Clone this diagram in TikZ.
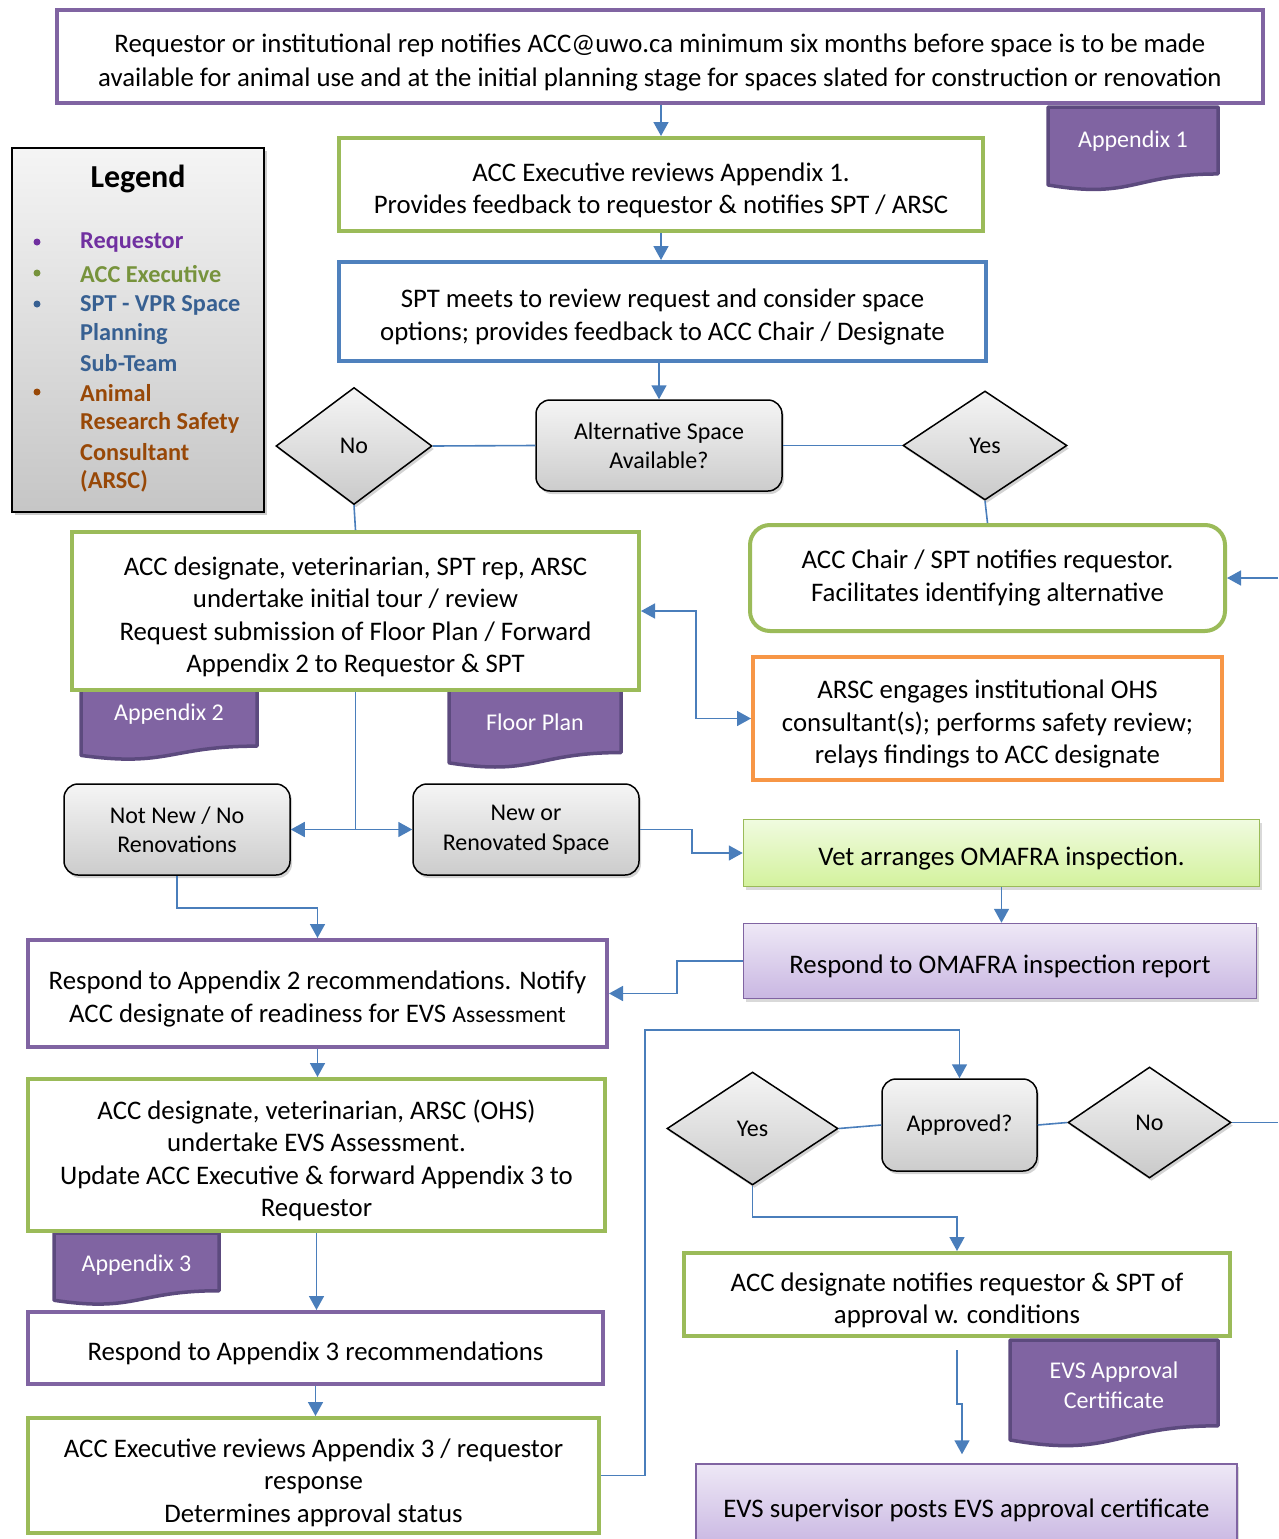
\documentclass[tikz,border=0pt]{standalone}
\usepackage{fontspec}
\setmainfont{Carlito}
\usetikzlibrary{arrows.meta,shapes.geometric,shadows,calc}
\definecolor{purp}{HTML}{8064A2}
\definecolor{purpdk}{HTML}{5C4A7E}
\definecolor{grn}{HTML}{9BBB59}
\definecolor{blu}{HTML}{4F81BD}
\definecolor{orng}{HTML}{F79646}
\definecolor{arrc}{HTML}{4A7EBB}
\definecolor{lgReq}{HTML}{7030A0}
\definecolor{lgAcc}{HTML}{77933C}
\definecolor{lgSpt}{HTML}{376092}
\definecolor{lgArsc}{HTML}{984807}
\definecolor{vettop}{HTML}{F0FBDF}
\definecolor{vetbot}{HTML}{D3F29C}
\definecolor{lavtop}{HTML}{EEE8F6}
\definecolor{lavbot}{HTML}{C9B7E2}
\newcommand\mainfs{\fontsize{26.8}{32.5}\selectfont}
\newcommand\grayfs{\fontsize{24}{29.5}\selectfont}
\newcommand\tp{\rule{0pt}{30pt}}
\newcommand\docshape[7]{% x1,x2,top,h,name,texty,text
  \draw[docsty] (#1,#3) -- (#2,#3) -- (#2,{#3+0.802*#4})
    .. controls ({(#1+#2)/2},{#3+0.802*#4}) and ({(#1+#2)/2},{#3+1.107*#4}) .. (#1,{#3+0.934*#4}) -- cycle;
  \node[doctext] (#5) at ({(#1+#2)/2},#6) {#7};
}
\tikzset{
  every node/.style={align=center, inner sep=0pt},
  box/.style={draw, line width=4pt, fill=white, font=\mainfs},
  pbox/.style={box, draw=purp},
  gbox/.style={box, draw=grn},
  bbox/.style={box, draw=blu},
  obox/.style={box, draw=orng},
  graybox/.style={draw=black, line width=1.5pt, rounded corners=14pt, top color=gray!8, bottom color=gray!40,
     drop shadow={shadow xshift=2pt, shadow yshift=-3pt, opacity=0.35}, font=\grayfs},
  dia/.style={diamond, draw=black, line width=1.5pt, top color=gray!8, bottom color=gray!42,
     drop shadow={shadow xshift=2pt, shadow yshift=-3pt, opacity=0.35}, font=\grayfs},
  lavbox/.style={draw=purp, line width=1.5pt, top color=lavtop, bottom color=lavbot,
     drop shadow={shadow xshift=2pt, shadow yshift=-3pt, opacity=0.3}, font=\mainfs},
  vetbox/.style={draw=grn, line width=1.5pt, top color=vettop, bottom color=vetbot,
     drop shadow={shadow xshift=2pt, shadow yshift=-3pt, opacity=0.3}, font=\mainfs},
  docsty/.style={fill=purp, draw=purpdk, line width=3.5pt, line join=round},
  doctext/.style={text=white, font=\fontsize{24}{29.5}\selectfont},
  conn/.style={draw=arrc, line width=1.6pt},
  arr/.style={conn, -{Triangle[length=14pt,width=15pt]}},
  darr/.style={conn, {Triangle[length=14pt,width=15pt]}-{Triangle[length=14pt,width=15pt]}},
  lgtext/.style={anchor=west, font=\fontsize{24.3}{29.5}\selectfont\bfseries},
}
\begin{document}
\begin{tikzpicture}[x=1pt,y=-1pt]
\useasboundingbox (0,0) rectangle (1278,1539);
\clip (0,0) rectangle (1278,1539);

% documents (drawn first, boxes overlap their tops)
\docshape{1048}{1218}{107}{83.5}{doc1}{141}{Appendix 1}
\docshape{81}{257}{690}{70}{doc2}{714}{Appendix 2}
\docshape{449}{621}{690}{78}{docfp}{722}{Floor Plan}
\docshape{54}{219}{1233}{72}{doc3}{1265}{Appendix 3}
\docshape{1010}{1218}{1340}{107}{doccert}{1385}{EVS Approval\\Certificate}

% legend
\node[draw=black, line width=2pt, top color=gray!8, bottom color=gray!45,
      drop shadow={shadow xshift=3pt, shadow yshift=-3pt, opacity=0.4},
      minimum width=252pt, minimum height=364pt] (legend) at (138,330) {};
\node[font=\fontsize{32}{38}\selectfont\bfseries] (lgtitle) at (138,179) {Legend};
\foreach \yy/\cc in {242/lgReq,273/lgAcc,304/lgSpt,392/lgArsc}
  \fill[\cc] (37,\yy) circle (3.5);
\node[lgtext, text=lgReq] (lg1) at (80,243) {Requestor};
\node[lgtext, text=lgAcc] (lg2) at (80,274) {ACC Executive};
\node[lgtext, text=lgSpt] (lg3) at (80,305) {SPT - VPR Space};
\node[lgtext, text=lgSpt] (lg4) at (80,334) {Planning};
\node[lgtext, text=lgSpt] (lg5) at (80,363) {Sub-Team};
\node[lgtext, text=lgArsc] (lg6) at (80,393) {Animal};
\node[lgtext, text=lgArsc] (lg7) at (80,423) {Research Safety};
\node[lgtext, text=lgArsc] (lg8) at (80,452) {Consultant};
\node[lgtext, text=lgArsc] (lg9) at (80,481) {(ARSC)};

% boxes
\node[pbox, minimum width=1206pt, minimum height=93pt, font=\fontsize{26.8}{34}\selectfont] (top) at (660,56.5)
  {\tp Requestor or institutional rep notifies ACC@uwo.ca minimum six months before space is to be made\\
   available for animal use and at the initial planning stage for spaces slated for construction or renovation};
\node[gbox, minimum width=644pt, minimum height=93pt] (exec1) at (661,184.5)
  {\tp ACC Executive reviews Appendix 1.\\ Provides feedback to requestor \& notifies SPT / ARSC};
\node[bbox, minimum width=647pt, minimum height=99pt] (spt) at (662.5,311.5)
  {\tp SPT meets to review request and consider space\\ options; provides feedback to ACC Chair / Designate};
\node[graybox, minimum width=246pt, minimum height=91pt] (alt) at (659,445.5)
  {Alternative Space\\ Available?};
\node[dia, minimum width=156pt, minimum height=117pt] (noA) at (354,446) {No};
\node[dia, minimum width=164pt, minimum height=109pt] (yesA) at (985,445.5) {Yes};

\node[gbox, minimum width=567pt, minimum height=158pt] (accdes) at (355.5,611)
  {\tp ACC designate, veterinarian, SPT rep, ARSC\\ undertake initial tour / review\\
   Request submission of Floor Plan / Forward\\ Appendix 2 to Requestor \& SPT};
\node[gbox, rounded corners=20pt, minimum width=475pt, minimum height=106pt] (chair) at (987.5,578)
  {ACC Chair / SPT notifies requestor.\\ Facilitates identifying alternative};
\node[obox, minimum width=469pt, minimum height=123pt] (arsc) at (987.5,718.5)
  {\tp ARSC engages institutional OHS\\ consultant(s); performs safety review;\\ relays findings to ACC designate};

\node[graybox, minimum width=226pt, minimum height=91pt] (notnew) at (177,829.5)
  {Not New / No\\ Renovations};
\node[graybox, minimum width=226pt, minimum height=91pt] (newsp) at (526,829.5)
  {New or\\ Renovated Space};
\node[vetbox, minimum width=516pt, minimum height=67pt] (vet) at (1001.5,853)
  {\tp Vet arranges OMAFRA inspection.};
\node[lavbox, minimum width=513pt, minimum height=75pt] (omafra) at (1000,961)
  {\tp Respond to OMAFRA inspection report};

\node[pbox, minimum width=579pt, minimum height=107pt] (resp2) at (317.5,993.5)
  {\tp Respond to Appendix 2 recommendations. Notify\\
   ACC designate of readiness for EVS {\fontsize{23.7}{26}\selectfont Assessment}};
\node[gbox, minimum width=577pt, minimum height=152pt] (evsas) at (316.5,1155)
  {\tp ACC designate, veterinarian, ARSC (OHS)\\ undertake EVS Assessment.\\
   Update ACC Executive \& forward Appendix 3 to\\ Requestor};
\node[pbox, minimum width=575pt, minimum height=72pt] (resp3) at (315.5,1348)
  {\tp Respond to Appendix 3 recommendations};
\node[gbox, minimum width=571pt, minimum height=115pt] (rev3) at (313.5,1475.5)
  {\rule{0pt}{33pt}ACC Executive reviews Appendix 3 / requestor\\ response\\ Determines approval status};

\node[graybox, minimum width=155pt, minimum height=92pt] (appr) at (959.5,1125) {Approved?};
\node[dia, minimum width=171pt, minimum height=113pt] (yesB) at (752.5,1128.5) {Yes};
\node[dia, minimum width=163pt, minimum height=111pt] (noB) at (1149.5,1122.5) {No};
\node[gbox, minimum width=546pt, minimum height=83pt] (notify) at (957,1294.5)
  {\tp ACC designate notifies requestor \& SPT of\\ approval w. conditions};
\node[lavbox, minimum width=541pt, minimum height=82pt] (evssup) at (966.5,1505)
  {\tp EVS supervisor posts EVS approval certificate};

% free ends
\coordinate (rin) at (1278,578);
\coordinate (rout) at (1278,1122.5);
\coordinate (t1) at (645,1030);
\coordinate (t2) at (752.5,1217);

% connectors
\draw[arr] (top.south -| exec1.north) -- (exec1.north);
\draw[arr] (exec1.south) -- (exec1.south |- spt.north);
\draw[arr] (spt.south -| alt.north) -- (alt.north);
\draw[conn] (alt.west) -- (noA.east);
\draw[conn] (alt.east) -- (yesA.west);
\draw[conn] (noA.south) -- (accdes.north);
\draw[conn] (yesA.south) -- (chair.north);
\draw[arr] (rin) -- (chair.east);
\draw[darr] (accdes.east) -- ++(55,0) |- (arsc.west);
\draw[arr] (accdes.south) |- (notnew.east);
\draw[arr] (accdes.south) |- (newsp.west);
\draw[arr] (newsp.east) -- ++(52,0) |- (vet.west);
\draw[arr] (vet.south) -- (vet.south |- omafra.north);
\draw[arr] (omafra.west) -- ++(-66,0) |- (resp2.east);
\draw[arr] (notnew.south) -- ++(0,32) -| (resp2.north);
\draw[arr] (resp2.south) -- (resp2.south |- evsas.north);
\draw[arr] (evsas.south) -- (evsas.south |- resp3.north);
\draw[arr] (resp3.south) -- (resp3.south |- rev3.north);
\draw[arr] (rev3.east) -| (t1) -| (appr.north);
\draw[conn] (appr.west) -- (yesB.east);
\draw[conn] (appr.east) -- (noB.west);
\draw[conn] (noB.east) -- (rout);
\draw[arr] (yesB.south) -- (t2) -| (notify.north);
\draw[arr, shorten <=12pt, shorten >=9pt] (notify.south) -- ++(0,66) -| ([xshift=-4.5pt]evssup.north);
\end{tikzpicture}
\end{document}
